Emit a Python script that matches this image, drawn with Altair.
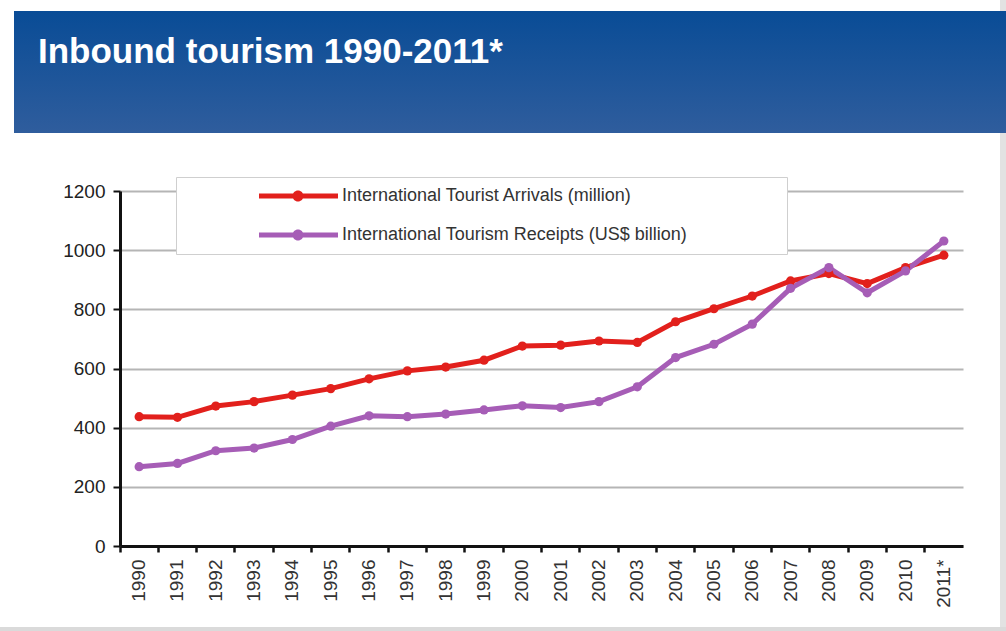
import altair as alt
import pandas as pd

years = ["1990", "1991", "1992", "1993", "1994", "1995", "1996", "1997", "1998", "1999",
         "2000", "2001", "2002", "2003", "2004", "2005", "2006", "2007", "2008", "2009",
         "2010", "2011*"]
arrivals = [437, 435, 473, 488, 510, 532, 565, 592, 605, 628,
            676, 679, 693, 688, 758, 802, 845, 896, 921, 887,
            941, 983]
receipts = [268, 279, 322, 331, 360, 405, 440, 437, 446, 460,
            474, 468, 488, 538, 637, 682, 750, 871, 941, 856,
            930, 1031]
series_names = ["International Tourist Arrivals (million)",
                "International Tourism Receipts (US$ billion)"]
series_colors = ["#e2201c", "#a65db6"]
y_ticks = [0, 200, 400, 600, 800, 1000, 1200]
title_text = "Inbound tourism 1990-2011*"

rows = []
for name, vals in zip(series_names, [arrivals, receipts]):
    for yr, v in zip(years, vals):
        rows.append({"year": yr, "value": v, "series": name})
df = pd.DataFrame(rows)

FONT = "Liberation Sans"
one = alt.Data(values=[{}])

x_enc = alt.X("year:N", sort=years,
              scale=alt.Scale(type="band", paddingInner=0, paddingOuter=0),
              axis=alt.Axis(title=None, labelAngle=270, bandPosition=0,
                            labelFontSize=19, labelFont=FONT, labelColor="#333333",
                            labelPadding=7, tickSize=6, tickColor="#111111", tickWidth=2.5,
                            domainColor="#111111", domainWidth=3, grid=False))
y_enc = alt.Y("value:Q", scale=alt.Scale(domain=[0, 1200], nice=False, zero=True),
              axis=alt.Axis(title=None, values=y_ticks, format="d", labelFontSize=19,
                            labelFont=FONT, labelColor="#222222", labelPadding=8,
                            tickSize=7, tickColor="#111111", tickWidth=2,
                            domainColor="#111111", domainWidth=3,
                            gridColor="#b5b5b5", gridWidth=2))
color_scale = alt.Scale(domain=series_names, range=series_colors)

# decorations
strip_r = alt.Chart(one).mark_rect(color="#e2e2e2").encode(
    x=alt.value(880), x2=alt.value(886), y=alt.value(-191), y2=alt.value(440))
strip_b = alt.Chart(one).mark_rect(color="#dadada").encode(
    x=alt.value(-120), x2=alt.value(886), y=alt.value(436), y2=alt.value(440))
header = alt.Chart(one).mark_rect(
    fill=alt.Gradient(gradient="linear",
                      stops=[alt.GradientStop(color="#094c96", offset=0),
                             alt.GradientStop(color="#2f5d9d", offset=1)],
                      x1=0, x2=0, y1=0, y2=1)
).encode(x=alt.value(-106), x2=alt.value(886), y=alt.value(-180), y2=alt.value(-58))
title = alt.Chart(one).mark_text(text=title_text, align="left", baseline="alphabetic",
                                 font=FONT, fontSize=35, fontWeight="bold",
                                 color="white").encode(x=alt.value(-82), y=alt.value(-128))

base = alt.Chart(df)
lines = base.mark_line(strokeWidth=5).encode(
    x=x_enc, y=y_enc,
    color=alt.Color("series:N", scale=color_scale, legend=None))

# legend symbol: line with a dot; a hair-thin sliver only widens the legend box
sym_path = ("M102.6,0 L102.59,0 L102.6,0.001 Z "
            "M-1,-0.5 L14.8,-0.5 L14.8,0.5 L-1,0.5 Z "
            "M7.9,0 A1.1,1.1 0 1 1 5.7,0 A1.1,1.1 0 1 1 7.9,0 Z")
points = base.mark_circle(size=85, opacity=1).encode(
    x=x_enc, y=y_enc,
    color=alt.Color("series:N", scale=color_scale,
                    legend=alt.Legend(title=None, orient="none", legendX=56, legendY=-14,
                                      symbolType=sym_path, symbolSize=100,
                                      symbolOffset=69,
                                      symbolStrokeWidth=0, symbolOpacity=1,
                                      labelFont=FONT, labelFontSize=18,
                                      labelColor="#333333", labelOffset=69,
                                      labelLimit=600, rowPadding=21, padding=10,
                                      fillColor="white", strokeColor="#cfcfcf")))

chart = alt.layer(strip_r, strip_b, header, title, lines, points).resolve_legend(
    color="independent"
).properties(
    width=843, height=355,
    padding={"left": 120, "top": 191, "right": 43, "bottom": 85},
    autosize=alt.AutoSizeParams(type="none"),
    background="white",
).configure_view(stroke=None)

chart.save("out.html", embed_options={"renderer": "svg", "actions": False})
